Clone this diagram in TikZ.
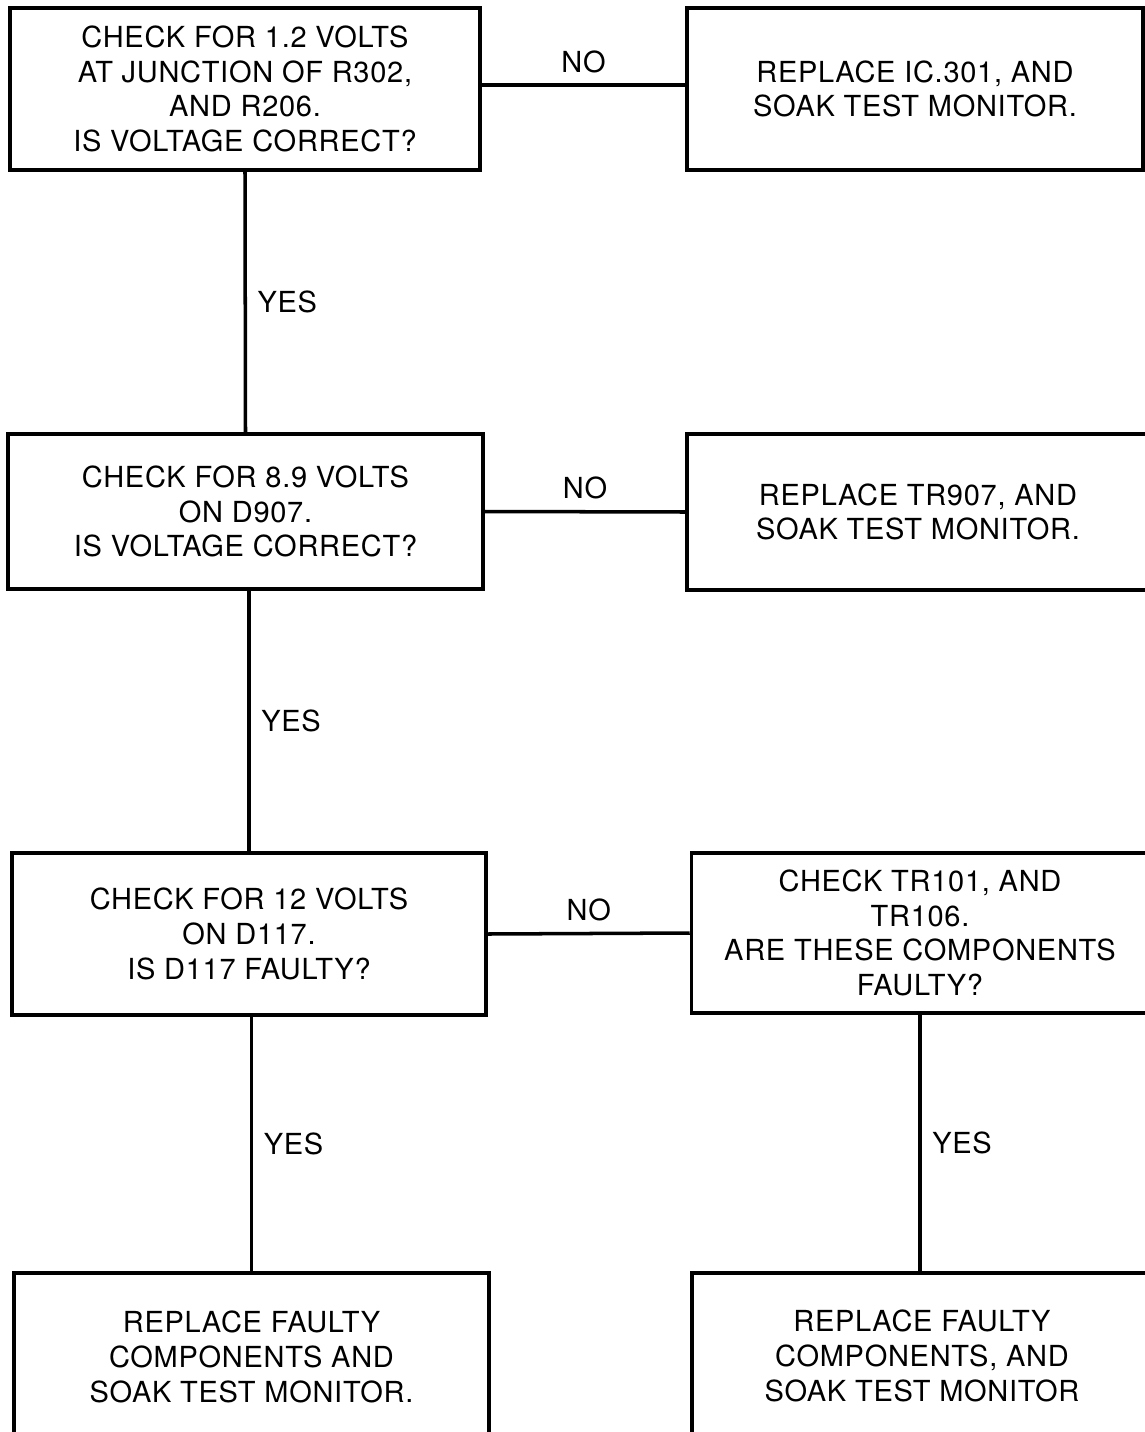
\documentclass[tikz,border=0pt]{standalone}
\usepackage{fontspec}
\setmainfont[LetterSpace=2.5]{TeX Gyre Heros}
\usetikzlibrary{calc}

\tikzset{
    box/.style={draw, line width=2pt, align=center, inner sep=0pt,
        font=\fontsize{16.5}{19.8}\selectfont},
    link/.style={line width=2pt},
    answer/.style={inner sep=2pt, font=\fontsize{16.5}{19.8}\selectfont}
}

\begin{document}
\begin{tikzpicture}[x=0.2mm, y=-0.2mm]
    \useasboundingbox (0,0) rectangle (1145,1432);
    \fill[white] (0,0) rectangle (1145,1432);

    % left column: checks
    \node[box, minimum width=9.4cm, minimum height=3.24cm] (volts12) at (245,89)
        {CHECK FOR 1.2 VOLTS\\AT JUNCTION OF R302,\\AND R206.\\IS VOLTAGE CORRECT?};
    \node[box, minimum width=9.5cm, minimum height=3.1cm] (volts89) at (245.5,511.5)
        {CHECK FOR 8.9 VOLTS\\ON D907.\\IS VOLTAGE CORRECT?};
    \node[box, minimum width=9.48cm, minimum height=3.24cm] (volts12b) at (249,934)
        {CHECK FOR 12 VOLTS\\ON D117.\\IS D117 FAULTY?};
    \node[box, minimum width=9.5cm, minimum height=3.36cm] (fixleft) at (251.5,1357)
        {REPLACE FAULTY\\COMPONENTS AND\\SOAK TEST MONITOR.};

    % right column: actions
    \node[box, minimum width=9.12cm, minimum height=3.24cm] (ic301) at (915,89)
        {REPLACE IC.301, AND\\SOAK TEST MONITOR.};
    \node[box, minimum width=9.24cm, minimum height=3.12cm] (tr907) at (918,512)
        {REPLACE TR907, AND\\SOAK TEST MONITOR.};
    \node[box, minimum width=9.14cm, minimum height=3.2cm] (tr101) at (920,933)
        {CHECK TR101, AND\\TR106.\\ARE THESE COMPONENTS\\FAULTY?};
    \node[box, minimum width=9.2cm, minimum height=3.32cm] (fixright) at (922,1356)
        {REPLACE FAULTY\\COMPONENTS, AND\\SOAK TEST MONITOR};

    % NO branches
    \draw[link] ([yshift=0.08cm]volts12.east) -- node[answer, above=4pt] {NO} ([yshift=0.08cm]ic301.west);
    \draw[link] (volts89.east) -- node[answer, above=4pt] {NO} (tr907.west);
    \draw[link] (volts12b.east) -- node[answer, above=4pt] {NO} (tr101.west);

    % YES branches
    \draw[link] (volts12.south) -- node[answer, right=4pt] {YES} (volts89.north);
    \draw[link] (volts12b.north |- volts89.south) -- node[answer, right=4pt] {YES} (volts12b.north);
    \draw[link] (fixleft.north |- volts12b.south) -- node[answer, right=4pt] {YES} (fixleft.north);
    \draw[link] (tr101.south) -- node[answer, right=4pt] {YES} (tr101.south |- fixright.north);
\end{tikzpicture}
\end{document}
